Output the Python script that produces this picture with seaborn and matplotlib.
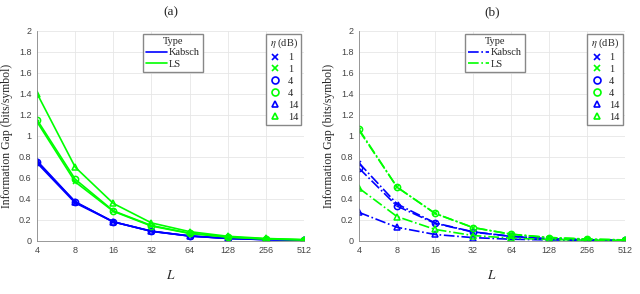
import numpy as np
import pandas as pd
import matplotlib
matplotlib.use("Agg")
import matplotlib.pyplot as plt
from matplotlib.lines import Line2D
import seaborn as sns

L = [4, 8, 16, 32, 64, 128, 256, 512]
etas = ["1", "4", "14"]
types = ["Kabsch", "LS"]

# panel (a)
a_kabsch_1 = [0.74, 0.36, 0.18, 0.09, 0.045, 0.022, 0.011, 0.006]
a_kabsch_4 = [0.75, 0.37, 0.18, 0.09, 0.046, 0.023, 0.011, 0.006]
a_kabsch_14 = [0.76, 0.37, 0.18, 0.092, 0.046, 0.023, 0.012, 0.006]
a_ls_1 = [1.13, 0.56, 0.28, 0.14, 0.07, 0.035, 0.017, 0.009]
a_ls_4 = [1.15, 0.585, 0.285, 0.145, 0.072, 0.036, 0.018, 0.009]
a_ls_14 = [1.40, 0.70, 0.355, 0.17, 0.087, 0.043, 0.022, 0.011]

# panel (b)
b_kabsch_1 = [0.74, 0.35, 0.17, 0.085, 0.043, 0.021, 0.011, 0.005]
b_kabsch_4 = [0.69, 0.33, 0.166, 0.083, 0.041, 0.02, 0.01, 0.005]
b_kabsch_14 = [0.27, 0.128, 0.06, 0.03, 0.015, 0.008, 0.004, 0.002]
b_ls_1 = [1.05, 0.51, 0.26, 0.125, 0.062, 0.031, 0.016, 0.008]
b_ls_4 = [1.06, 0.51, 0.26, 0.126, 0.063, 0.031, 0.016, 0.008]
b_ls_14 = [0.50, 0.23, 0.108, 0.05, 0.025, 0.012, 0.006, 0.003]

panels = {
    "(a)": {("Kabsch", "1"): a_kabsch_1, ("Kabsch", "4"): a_kabsch_4, ("Kabsch", "14"): a_kabsch_14,
            ("LS", "1"): a_ls_1, ("LS", "4"): a_ls_4, ("LS", "14"): a_ls_14},
    "(b)": {("Kabsch", "1"): b_kabsch_1, ("Kabsch", "4"): b_kabsch_4, ("Kabsch", "14"): b_kabsch_14,
            ("LS", "1"): b_ls_1, ("LS", "4"): b_ls_4, ("LS", "14"): b_ls_14},
}

colores = {"Kabsch": (0, 0, 1), "LS": (0, 1, 0)}
marcadores = {"1": "x", "4": "o", "14": "^"}
tam_marcador = {"1": 3.5, "4": 4.5, "14": 4.5}
estilos = {"(a)": "-", "(b)": "-."}

sns.set_theme(style="whitegrid")
plt.rcParams["font.family"] = ["Liberation Serif", "DejaVu Serif"]
plt.rcParams["mathtext.fontset"] = "stix"

fig = plt.figure(figsize=(6.4, 2.94), dpi=100)
ax_a = fig.add_axes([0.058, 0.181, 0.417, 0.715])
ax_b = fig.add_axes([0.561, 0.181, 0.416, 0.715])

for ax, nombre in [(ax_a, "(a)"), (ax_b, "(b)")]:
    filas = []
    for (t, e), vals in panels[nombre].items():
        for x, y in zip(L, vals):
            filas.append({"L": x, "gap": y, "Type": t, "eta": e})
    df = pd.DataFrame(filas)
    for (t, e), sub in df.groupby(["Type", "eta"], sort=False):
        sns.lineplot(data=sub, x="L", y="gap", ax=ax, color=colores[t],
                     linestyle=estilos[nombre], marker=marcadores[e],
                     markersize=tam_marcador[e], markerfacecolor="none",
                     markeredgecolor=colores[t], markeredgewidth=1.1,
                     linewidth=1.2, legend=False)
    ax.set_xscale("log", base=2)
    ax.set_xlim(4, 512)
    ax.set_ylim(0, 2)
    ax.set_xticks(L)
    ax.set_xticklabels([str(v) for v in L])
    ax.set_yticks(np.arange(0, 2.01, 0.2))
    ax.set_yticklabels(["0", "0.2", "0.4", "0.6", "0.8", "1", "1.2", "1.4", "1.6", "1.8", "2"])
    ax.minorticks_off()
    ax.tick_params(labelsize=6.5, colors="#444444", length=2, pad=2)
    for lab in ax.get_xticklabels() + ax.get_yticklabels():
        lab.set_family("Liberation Sans")
    ax.grid(True, color="#e6e6e6", linewidth=0.6)
    for s in ["top", "right"]:
        ax.spines[s].set_visible(False)
    for s in ["left", "bottom"]:
        ax.spines[s].set_color("#888888")
        ax.spines[s].set_linewidth(0.6)
    ax.set_title(nombre, fontsize=9.5, pad=11)
    ax.set_xlabel("$L$", fontsize=9.5, labelpad=10)
    ax.set_ylabel("Information Gap (bits/symbol)", fontsize=8.5, labelpad=4)

    h_tipo = [Line2D([], [], color=colores[t], linestyle=estilos[nombre], linewidth=1.2) for t in types]
    leg1 = ax.legend(h_tipo, types, title="Type", loc="upper left", bbox_to_anchor=(0.397, 0.985),
                     fontsize=7.5, title_fontsize=7.5, fancybox=False, edgecolor="#888888",
                     framealpha=1, handlelength=2.0, handletextpad=0.2, borderpad=0.3,
                     labelspacing=0.2, borderaxespad=0)
    ax.add_artist(leg1)
    h_eta, l_eta = [], []
    for e in etas:
        for t in types:
            h_eta.append(Line2D([], [], color=colores[t], linestyle="none", marker=marcadores[e],
                                markersize=tam_marcador[e] + 0.5, markerfacecolor="none",
                                markeredgewidth=1.2))
            l_eta.append(e)
    ax.legend(h_eta, l_eta, title=r"$\eta$ (dB)", loc="upper right", bbox_to_anchor=(0.99, 0.985),
              fontsize=7.5, title_fontsize=7.5, fancybox=False, edgecolor="#888888",
              framealpha=1, handlelength=1.2, handletextpad=0.6, borderpad=0.3,
              labelspacing=0.25, borderaxespad=0)

fig.savefig("out.png", dpi=100)
